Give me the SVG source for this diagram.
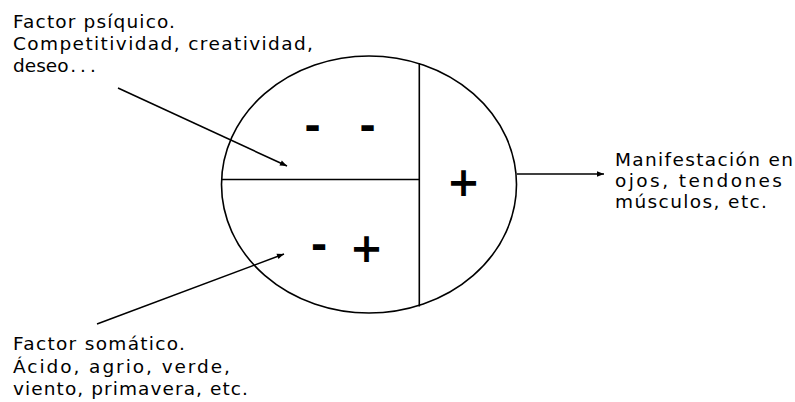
<svg xmlns="http://www.w3.org/2000/svg" width="795" height="402" viewBox="0 0 795 402">
<defs>
<marker id="ah" viewBox="0 0 10 10" refX="10" refY="5" markerWidth="9" markerHeight="7" markerUnits="userSpaceOnUse" orient="auto">
<path d="M0,1 L10,5 L0,9 Z" fill="#000"/>
</marker>
</defs>
<style>
.lbl{font-family:"DejaVu Sans","Liberation Sans",sans-serif;font-size:18.5px;fill:#000}
.sg{font-family:"DejaVu Sans","Liberation Sans",sans-serif;font-size:40px;font-weight:bold;fill:#000;text-anchor:middle}
.ln{stroke:#000;stroke-width:1.6;fill:none}
</style>
<rect width="795" height="402" fill="#fff"/>
<g id="ellipse-node">
<ellipse class="ln" cx="369" cy="184.5" rx="147.5" ry="128.5"/>
<line class="ln" x1="419.3" y1="63" x2="419.3" y2="306.5"/>
<line class="ln" x1="221.5" y1="179.5" x2="419.3" y2="179.5"/>
<text class="sg" x="312.5" y="140">-</text>
<text class="sg" x="367.5" y="140">-</text>
<text class="sg" x="463.5" y="195.5">+</text>
<text class="sg" x="319" y="259">-</text>
<text class="sg" x="366.5" y="261.5">+</text>
</g>
<g id="psiquico">
<text class="lbl" x="13" y="28" textLength="162" lengthAdjust="spacing">Factor psíquico.</text>
<text class="lbl" x="13" y="50" textLength="300" lengthAdjust="spacing">Competitividad, creatividad,</text>
<text class="lbl" x="13" y="72">deseo<tspan dx="2">.</tspan><tspan dx="4">.</tspan><tspan dx="4">.</tspan></text>
</g>
<g id="somatico">
<text class="lbl" x="13" y="350" textLength="172" lengthAdjust="spacing">Factor somático.</text>
<text class="lbl" x="13" y="373" textLength="217" lengthAdjust="spacing">Ácido, agrio, verde,</text>
<text class="lbl" x="13" y="395" textLength="235" lengthAdjust="spacing">viento, primavera, etc.</text>
</g>
<g id="manifestacion">
<text class="lbl" x="615" y="166" textLength="178" lengthAdjust="spacing">Manifestación en</text>
<text class="lbl" x="615" y="187" textLength="167" lengthAdjust="spacing">ojos, tendones</text>
<text class="lbl" x="615" y="208" textLength="152" lengthAdjust="spacing">músculos, etc.</text>
</g>
<g id="connectors">
<line class="ln" x1="118" y1="88" x2="287" y2="166" marker-end="url(#ah)"/>
<line class="ln" x1="97" y1="324" x2="284" y2="254" marker-end="url(#ah)"/>
<line class="ln" x1="517" y1="174" x2="604" y2="174" marker-end="url(#ah)"/>
</g>
</svg>
